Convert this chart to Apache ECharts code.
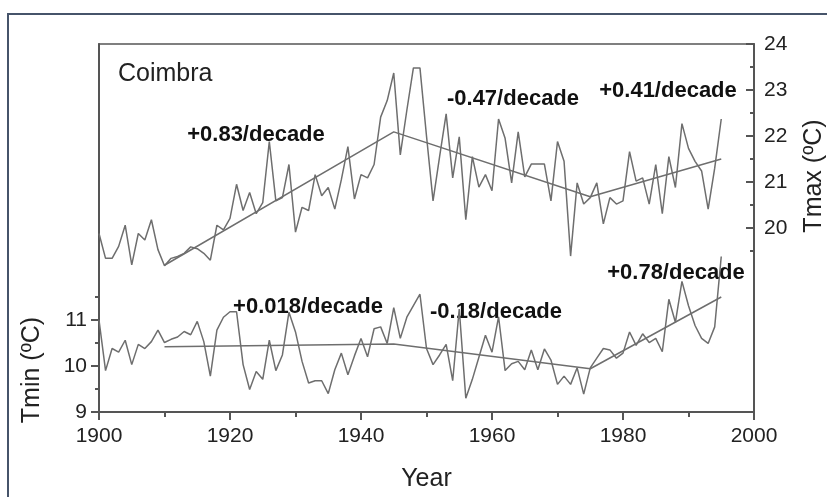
<!DOCTYPE html>
<html>
<head>
<meta charset="utf-8">
<script src="https://cdn.jsdelivr.net/npm/echarts@6/dist/echarts.min.js"></script>
<style>
  html, body { margin: 0; padding: 0; background: #fff; }
  #main { width: 827px; height: 497px; }
</style>
</head>
<body>
<div id="main"></div>
<script>
// years 1900..1995
var years = [];
for (var y = 1900; y <= 1995; y++) years.push(y);

var tmax = [
  19.88, 19.34, 19.34, 19.60, 20.06, 19.20, 19.88, 19.74, 20.18, 19.53,
  19.18, 19.34, 19.38, 19.45, 19.59, 19.55, 19.45, 19.30, 20.06, 19.96,
  20.21, 20.95, 20.38, 20.77, 20.31, 20.55, 21.88, 20.59, 20.66, 21.38,
  19.91, 20.45, 20.38, 21.16, 20.70, 20.88, 20.41, 21.05, 21.77, 20.63,
  21.16, 21.09, 21.38, 22.41, 22.77, 23.37, 21.59, 22.56, 23.48, 23.48,
  22.00, 20.59, 21.55, 22.48, 21.09, 21.98, 20.18, 21.55, 20.89, 21.16,
  20.81, 22.37, 21.95, 20.98, 22.09, 21.11, 21.39, 21.39, 21.39, 20.59,
  21.88, 21.45, 19.39, 20.98, 20.52, 20.66, 20.98, 20.09, 20.66, 20.52,
  20.59, 21.66, 21.02, 21.09, 20.52, 21.38, 20.31, 21.55, 20.88, 22.27,
  21.73, 21.45, 21.24, 20.41, 21.30, 22.37
];

var tmin = [
  11.00, 9.90, 10.38, 10.30, 10.56, 10.03, 10.47, 10.38, 10.53, 10.78,
  10.51, 10.58, 10.63, 10.75, 10.68, 10.97, 10.53, 9.78, 10.78, 11.06,
  11.18, 11.18, 10.03, 9.49, 9.88, 9.71, 10.56, 9.90, 10.24, 11.17,
  10.74, 10.10, 9.63, 9.68, 9.68, 9.40, 9.92, 10.28, 9.81, 10.22,
  10.60, 10.20, 10.81, 10.85, 10.49, 11.27, 10.60, 11.06, 11.31, 11.56,
  10.38, 10.03, 10.24, 10.47, 9.68, 11.24, 9.30, 9.71, 10.19, 10.67,
  10.30, 11.07, 9.90, 10.05, 10.10, 9.92, 10.35, 9.92, 10.37, 10.13,
  9.60, 9.78, 9.60, 9.96, 9.39, 9.96, 10.17, 10.38, 10.35, 10.17,
  10.28, 10.74, 10.45, 10.70, 10.51, 10.60, 10.31, 11.45, 10.95, 11.84,
  11.31, 10.88, 10.60, 10.49, 10.85, 12.38
];

// piecewise trends (break years)
var trendYears = [1910, 1945, 1975, 1995];
var tmaxTrend = [19.19, 22.09, 20.68, 21.50];
var tminTrend = [10.42, 10.48, 9.94, 11.50];

var trendLabels = ['+0.83/decade', '-0.47/decade', '+0.41/decade',
                   '+0.018/decade', '-0.18/decade', '+0.78/decade'];

function pairs(xs, vs) {
  return xs.map(function (x, i) { return [x, vs[i]]; });
}

var lineCol = '#6e6e6e';
var axisCol = '#555';
var font = 'Liberation Sans, Arial, sans-serif';

var myChart = echarts.init(document.getElementById('main'));
myChart.setOption({
  animation: false,
  backgroundColor: '#fff',
  grid: {
    left: 99, top: 44, right: 73, bottom: 79,
    show: true, borderColor: axisCol, borderWidth: 1.5
  },
  xAxis: {
    type: 'value', min: 1900, max: 2000, interval: 20,
    name: 'Year', nameLocation: 'middle', nameGap: 55,
    nameTextStyle: { fontSize: 25, color: '#222', fontFamily: font },
    axisLine: { lineStyle: { color: axisCol, width: 2 } },
    axisTick: { length: 8, lineStyle: { color: axisCol, width: 2 } },
    minorTick: { show: true, splitNumber: 2, length: 5, lineStyle: { color: axisCol, width: 2 } },
    axisLabel: {
      fontSize: 21, color: '#222', margin: 14, fontFamily: font,
      formatter: function (v) { return String(v); }
    },
    splitLine: { show: false }
  },
  yAxis: [
    {
      type: 'value', position: 'left', min: 9, max: 17, interval: 1,
      axisLine: { show: true, lineStyle: { color: axisCol, width: 2 } },
      axisTick: { show: true, customValues: [9, 10, 11], length: 8, lineStyle: { color: axisCol, width: 2 } },
      axisLabel: { customValues: [9, 10, 11], fontSize: 21, color: '#222', margin: 12, fontFamily: font },
      splitLine: { show: false }
    },
    {
      type: 'value', position: 'right', min: 16, max: 24, interval: 1,
      axisLine: { show: true, lineStyle: { color: axisCol, width: 2 } },
      axisTick: { show: true, inside: true, customValues: [20, 21, 22, 23, 24], length: 8, lineStyle: { color: axisCol, width: 2 } },
      axisLabel: { customValues: [20, 21, 22, 23, 24], fontSize: 21, color: '#222', margin: 10, fontFamily: font },
      splitLine: { show: false }
    },
    {
      type: 'value', position: 'left', min: 9, max: 17,
      axisLine: { show: false },
      axisTick: { show: true, customValues: [9.5, 10.5, 11.5], length: 4, lineStyle: { color: axisCol, width: 2 } },
      axisLabel: { show: false },
      splitLine: { show: false }
    },
    {
      type: 'value', position: 'right', min: 16, max: 24,
      axisLine: { show: false },
      axisTick: { show: true, inside: true, customValues: [19.5, 20.5, 21.5, 22.5, 23.5], length: 4, lineStyle: { color: axisCol, width: 2 } },
      axisLabel: { show: false },
      splitLine: { show: false }
    }
  ],
  series: [
    {
      name: 'Tmax', type: 'line', yAxisIndex: 1, symbol: 'none',
      data: pairs(years, tmax),
      lineStyle: { color: lineCol, width: 1.5 }
    },
    {
      name: 'Tmin', type: 'line', yAxisIndex: 0, symbol: 'none',
      data: pairs(years, tmin),
      lineStyle: { color: lineCol, width: 1.5 }
    },
    {
      name: 'Tmax trend', type: 'line', yAxisIndex: 1, symbol: 'none',
      data: pairs(trendYears, tmaxTrend),
      lineStyle: { color: lineCol, width: 1.5 }
    },
    {
      name: 'Tmin trend', type: 'line', yAxisIndex: 0, symbol: 'none',
      data: pairs(trendYears, tminTrend),
      lineStyle: { color: lineCol, width: 1.5 }
    }
  ],
  graphic: [
    {
      type: 'rect', silent: true, z: 100,
      shape: { x: 8, y: 14, width: 840, height: 520 },
      style: { fill: 'none', stroke: '#46546a', lineWidth: 2 }
    },
    {
      type: 'text', left: 118, top: 62,
      style: { text: 'Coimbra', fontSize: 25, fill: '#222', fontFamily: font }
    },
    { type: 'text', x: 256, y: 135, style: { text: trendLabels[0], fontSize: 22, fontWeight: 'bold', fill: '#111', align: 'center', verticalAlign: 'middle', fontFamily: font } },
    { type: 'text', x: 513, y: 99, style: { text: trendLabels[1], fontSize: 22, fontWeight: 'bold', fill: '#111', align: 'center', verticalAlign: 'middle', fontFamily: font } },
    { type: 'text', x: 668, y: 91, style: { text: trendLabels[2], fontSize: 22, fontWeight: 'bold', fill: '#111', align: 'center', verticalAlign: 'middle', fontFamily: font } },
    { type: 'text', x: 308, y: 307, style: { text: trendLabels[3], fontSize: 22, fontWeight: 'bold', fill: '#111', align: 'center', verticalAlign: 'middle', fontFamily: font } },
    { type: 'text', x: 496, y: 312, style: { text: trendLabels[4], fontSize: 22, fontWeight: 'bold', fill: '#111', align: 'center', verticalAlign: 'middle', fontFamily: font } },
    { type: 'text', x: 676, y: 273, style: { text: trendLabels[5], fontSize: 22, fontWeight: 'bold', fill: '#111', align: 'center', verticalAlign: 'middle', fontFamily: font } },
    {
      type: 'text', x: 32, y: 370, rotation: Math.PI / 2,
      style: { text: 'Tmin (ºC)', fontSize: 25, fill: '#222', align: 'center', verticalAlign: 'middle', fontFamily: font }
    },
    {
      type: 'text', x: 814, y: 176, rotation: Math.PI / 2,
      style: { text: 'Tmax (ºC)', fontSize: 25, fill: '#222', align: 'center', verticalAlign: 'middle', fontFamily: font }
    }
  ]
});
</script>
</body>
</html>
